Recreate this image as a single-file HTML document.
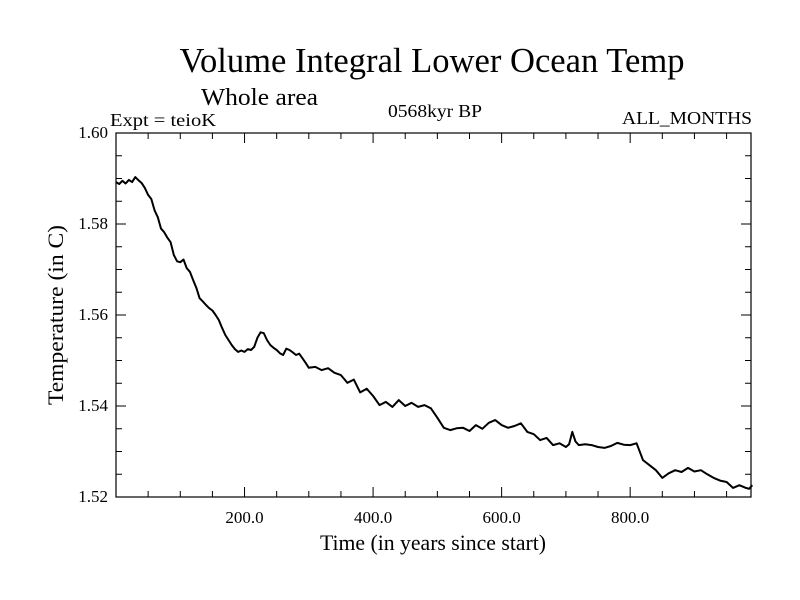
<!DOCTYPE html>
<html><head><meta charset="utf-8"><style>
html,body{margin:0;padding:0;background:#fff;}
svg{display:block;font-family:"Liberation Serif",serif;}
</style></head><body>
<svg id="chart" width="800" height="600" viewBox="0 0 800 600">
<rect x="0" y="0" width="800" height="600" fill="#fff"/>
<text x="432" y="72" text-anchor="middle" font-size="35" textLength="505" lengthAdjust="spacingAndGlyphs">Volume Integral Lower Ocean Temp</text>
<text x="201" y="105" font-size="24" textLength="117" lengthAdjust="spacingAndGlyphs">Whole area</text>
<text x="110" y="126" font-size="18" textLength="106" lengthAdjust="spacingAndGlyphs">Expt = teioK</text>
<text x="388" y="117" font-size="18" textLength="94" lengthAdjust="spacingAndGlyphs">0568kyr BP</text>
<text x="752" y="124" text-anchor="end" font-size="18" textLength="130" lengthAdjust="spacingAndGlyphs">ALL_MONTHS</text>
<g id="axes"></g>
<text x="433" y="550" text-anchor="middle" font-size="22" textLength="226" lengthAdjust="spacingAndGlyphs">Time (in years since start)</text>
<text transform="translate(63,315) rotate(-90)" text-anchor="middle" font-size="22" textLength="180" lengthAdjust="spacingAndGlyphs">Temperature (in C)</text>
</svg>
<script>
const years = [0,5,10,15,20,25,30,35,40,45,50,55,60,65,70,75,80,85,90,95,100,105,110,115,120,125,130,135,140,145,150,155,160,165,170,175,180,185,190,195,200,205,210,215,220,225,230,235,240,245,250,255,260,265,270,275,280,285,290,295,300,310,320,330,340,350,360,370,380,390,400,410,420,430,440,450,460,470,480,490,500,510,520,530,540,550,560,570,580,590,600,610,620,630,640,650,660,670,680,690,700,705,710,715,720,730,740,750,760,770,780,790,800,810,820,830,840,850,860,870,880,890,900,910,920,930,940,950,960,970,980,985,990];
const temps = [1.5892,1.5888,1.5895,1.5889,1.5897,1.5892,1.5903,1.5896,1.5890,1.5879,1.5864,1.5855,1.5830,1.5815,1.5790,1.5782,1.5770,1.5760,1.5732,1.5718,1.5716,1.5722,1.5703,1.5695,1.5677,1.5660,1.5637,1.5630,1.5622,1.5615,1.5610,1.5600,1.5589,1.5572,1.5556,1.5545,1.5534,1.5525,1.5519,1.5522,1.5519,1.5525,1.5523,1.5530,1.5550,1.5562,1.5560,1.5545,1.5534,1.5528,1.5523,1.5516,1.5512,1.5526,1.5523,1.5518,1.5512,1.5515,1.5505,1.5495,1.5484,1.5486,1.5479,1.5483,1.5473,1.5468,1.5451,1.5458,1.5430,1.5438,1.5422,1.5402,1.5409,1.5398,1.5413,1.5400,1.5407,1.5398,1.5402,1.5395,1.5374,1.5352,1.5347,1.5351,1.5352,1.5345,1.5358,1.5350,1.5363,1.5369,1.5358,1.5352,1.5356,1.5362,1.5343,1.5338,1.5325,1.5330,1.5314,1.5318,1.5310,1.5316,1.5343,1.5322,1.5314,1.5316,1.5314,1.5310,1.5308,1.5312,1.5319,1.5315,1.5314,1.5318,1.5281,1.5270,1.5259,1.5242,1.5252,1.5259,1.5255,1.5264,1.5256,1.5259,1.5250,1.5242,1.5236,1.5233,1.5220,1.5226,1.5220,1.5218,1.5226];
const yTicks = [1.52,1.54,1.56,1.58,1.60];
const yTickLabels = ["1.52","1.54","1.56","1.58","1.60"];
const xTicks = [200,400,600,800];
const xTickLabels = ["200.0","400.0","600.0","800.0"];

const L=116,R=751,T=133,B=497,XMIN=0,XMAX=988,YMIN=1.52,YMAX=1.60;
const sx=v=>L+(v-XMIN)/(XMAX-XMIN)*(R-L);
const sy=v=>B-(v-YMIN)/(YMAX-YMIN)*(B-T);
const NS="http://www.w3.org/2000/svg";
const g=document.getElementById('axes');
function mk(tag,attrs){const e=document.createElementNS(NS,tag);for(const k in attrs)e.setAttribute(k,attrs[k]);g.appendChild(e);return e;}

const frame=mk('rect',{x:L,y:T,width:R-L,height:B-T,fill:'none',stroke:'#000','stroke-width':1.2});



for(let v=50;v<XMAX;v+=50){
  const len=(v%200===0)?10:6;
  const t1=mk('line',{x1:sx(v),x2:sx(v),y1:B,y2:B-len,stroke:'#000'});
  
  
  const t2=mk('line',{x1:sx(v),x2:sx(v),y1:T,y2:T+len,stroke:'#000'});
  
  
}
for(let i=0;i<=16;i++){
  const v=YMIN+i*0.005;
  const len=(i%4===0)?10:6;
  const t1=mk('line',{x1:L,x2:L+len,y1:sy(v),y2:sy(v),stroke:'#000'});
  
  
  const t2=mk('line',{x1:R,x2:R-len,y1:sy(v),y2:sy(v),stroke:'#000'});
  
  
}
xTicks.forEach((v,i)=>{
  const t=mk('text',{x:sx(v),y:523,'text-anchor':'middle','font-size':17});
  t.textContent=xTickLabels[i];
  
  
});
yTicks.forEach((v,i)=>{
  const t=mk('text',{x:108,y:sy(v)+5,'text-anchor':'end','font-size':17});
  t.textContent=yTickLabels[i];
  
  
});
const d=years.map((y,i)=>(i?'L':'M')+sx(y).toFixed(1)+','+sy(temps[i]).toFixed(1)).join('');
const p=mk('path',{d:d,fill:'none',stroke:'#000','stroke-width':2,'stroke-linejoin':'round'});


</script>
</body></html>
